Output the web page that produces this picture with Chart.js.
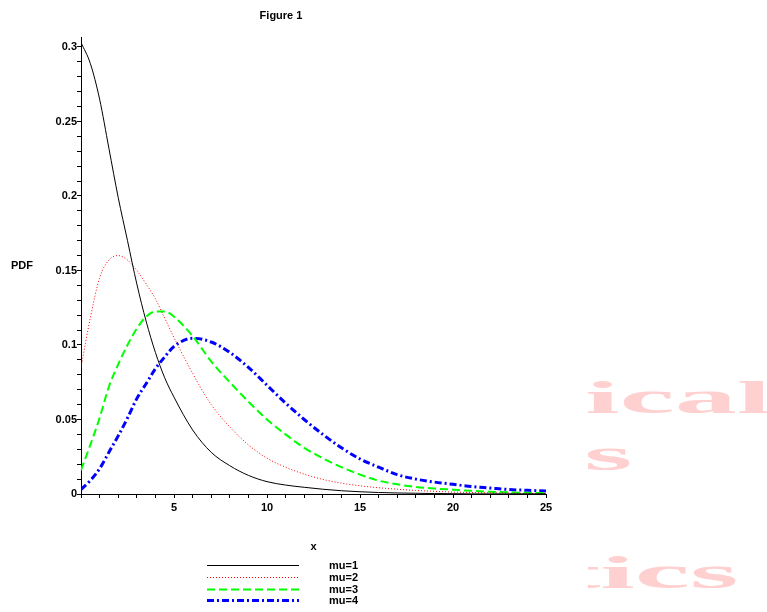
<!DOCTYPE html>
<html>
<head>
<meta charset="utf-8">
<script src="https://cdn.jsdelivr.net/npm/chart.js@4.4.1/dist/chart.umd.min.js"></script>
<style>
    html, body { margin: 0; padding: 0; background: #fff; }
    #wrap { width: 767px; height: 612px; }
</style>
</head>
<body>
<div id="wrap"><canvas id="grafico" width="767" height="612"></canvas></div>
<script>
// valores
const xValues = [0, 0.5, 1, 1.5, 2, 2.5, 3, 3.5, 4, 4.5, 5, 6, 7, 8, 9, 10, 11, 12, 13, 14, 15, 16, 17, 18, 19, 20, 21, 22, 23, 24, 25];
const mu1 = [0.303, 0.289, 0.265, 0.232, 0.199, 0.170, 0.141, 0.116, 0.095, 0.078, 0.065, 0.043, 0.028, 0.019, 0.0125, 0.0083, 0.006, 0.0045, 0.0032, 0.0022, 0.0015, 0.001, 0.0007, 0.0005, 0.0003, 0.0002, 0.0001, 0.0001, 0.0001, 0.0001, 0.0001];
const mu2 = [0.085, 0.118, 0.145, 0.157, 0.160, 0.157, 0.150, 0.141, 0.131, 0.118, 0.105, 0.081, 0.060, 0.045, 0.033, 0.024, 0.018, 0.0133, 0.0098, 0.0073, 0.0055, 0.0042, 0.0032, 0.0024, 0.0018, 0.0013, 0.001, 0.0008, 0.0006, 0.0004, 0.0003];
const mu3 = [0.016, 0.033, 0.051, 0.072, 0.087, 0.100, 0.111, 0.119, 0.1225, 0.1225, 0.119, 0.106, 0.089, 0.075, 0.062, 0.050, 0.040, 0.031, 0.024, 0.018, 0.013, 0.009, 0.0065, 0.0048, 0.0037, 0.0029, 0.0021, 0.0015, 0.0011, 0.0008, 0.0006];
const mu4 = [0.003, 0.009, 0.017, 0.028, 0.039, 0.051, 0.064, 0.074, 0.084, 0.092, 0.099, 0.1045, 0.102, 0.095, 0.085, 0.073, 0.061, 0.050, 0.040, 0.031, 0.0235, 0.018, 0.013, 0.010, 0.008, 0.0065, 0.005, 0.004, 0.003, 0.0025, 0.002];

const seriesLabels = ['mu=1', 'mu=2', 'mu=3', 'mu=4'];
const yMajorValues = [0, 0.05, 0.1, 0.15, 0.2, 0.25, 0.3];
const yTickLabels = ['0', '0.05', '0.1', '0.15', '0.2', '0.25', '0.3'];
const xMajorValues = [5, 10, 15, 20, 25];
const xTickLabels = ['5', '10', '15', '20', '25'];
const watermarkLines = ['ical', 's', 'tics'];

const fonte = '"Liberation Sans", Arial, sans-serif';

function pontos(ys) {
    return xValues.map(function (x, i) { return { x: x, y: ys[i] }; });
}

function rotulo(valores, rotulos, v) {
    const k = valores.findIndex(function (m) { return Math.abs(m - v) < 1e-9; });
    return k >= 0 ? rotulos[k] : '';
}

const estilos = [
    { color: '#000000', width: 1, dash: [] },
    { color: '#ff0000', width: 1, dash: [1, 2] },
    { color: '#00ff00', width: 2, dash: [8, 4] },
    { color: '#0000ff', width: 3, dash: [7, 3, 2, 3] }
];

const dados = {
    datasets: [mu1, mu2, mu3, mu4].map(function (ys, i) {
        return {
            label: seriesLabels[i],
            data: pontos(ys),
            borderColor: estilos[i].color,
            borderWidth: estilos[i].width,
            borderDash: estilos[i].dash,
            pointRadius: 0,
            cubicInterpolationMode: 'monotone',
            fill: false
        };
    })
};

// textos extras: titulo, eixos, legenda e marca d'agua
const textosPlugin = {
    id: 'textos',
    beforeDraw: function (chart) {
        const ctx = chart.ctx;
        ctx.save();
        ctx.beginPath();
        ctx.rect(588, 0, 767 - 588, 612);
        ctx.clip();
        ctx.fillStyle = '#ffd0d0';
        ctx.font = 'bold 46px "Liberation Serif", serif';
        ctx.textBaseline = 'alphabetic';
        ctx.textAlign = 'left';
        const linhas = [[585, 413], [584, 470], [559, 588]];
        watermarkLines.forEach(function (t, i) {
            ctx.save();
            ctx.translate(linhas[i][0], linhas[i][1]);
            ctx.scale(2.7, 1);
            ctx.fillText(t, 0, 0);
            ctx.restore();
        });
        ctx.restore();
    },
    afterDraw: function (chart) {
        const ctx = chart.ctx;
        const area = chart.chartArea;
        ctx.save();
        ctx.fillStyle = '#000';
        ctx.font = 'bold 11px ' + fonte;
        ctx.textBaseline = 'middle';
        ctx.textAlign = 'center';
        ctx.fillText('Figure 1', 281, 16);
        ctx.fillText('x', (area.left + area.right) / 2, 547);
        ctx.fillText('PDF', 22, (area.top + area.bottom) / 2);

        // legenda
        const ys = [565, 577, 589, 600];
        chart.data.datasets.forEach(function (ds, i) {
            ctx.save();
            ctx.strokeStyle = ds.borderColor;
            ctx.lineWidth = ds.borderWidth;
            ctx.setLineDash(ds.borderDash);
            ctx.beginPath();
            ctx.moveTo(207, ys[i] + 0.5);
            ctx.lineTo(299, ys[i] + 0.5);
            ctx.stroke();
            ctx.restore();
            ctx.textAlign = 'left';
            ctx.fillText(ds.label, 329, ys[i] + 1);
        });
        ctx.restore();
    }
};

const config = {
    type: 'line',
    data: dados,
    options: {
        responsive: false,
        animation: false,
        layout: { padding: { left: 0, top: 37, right: 221, bottom: 0 } },
        plugins: {
            legend: { display: false },
            tooltip: { enabled: false }
        },
        scales: {
            x: {
                type: 'linear',
                min: 0,
                max: 25,
                afterFit: function (s) { s.height = 118; },
                afterBuildTicks: function (s) {
                    const t = [];
                    for (let v = 0; v <= 25; v++) t.push({ value: v });
                    s.ticks = t;
                },
                grid: { drawOnChartArea: false, tickLength: 4, color: '#000', tickColor: '#000' },
                border: { display: true, color: '#000', width: 1 },
                ticks: {
                    autoSkip: false,
                    maxRotation: 0,
                    padding: 3,
                    color: '#000',
                    font: { family: fonte, weight: 'bold', size: 11 },
                    callback: function (v) { return rotulo(xMajorValues, xTickLabels, v); }
                }
            },
            y: {
                type: 'linear',
                min: 0,
                max: 0.3067,
                afterFit: function (s) { s.width = 81; },
                afterBuildTicks: function (s) {
                    const t = [];
                    for (let k = 0; k <= 30; k++) t.push({ value: k / 100 });
                    s.ticks = t;
                },
                grid: { drawOnChartArea: false, tickLength: 4, color: '#000', tickColor: '#000' },
                border: { display: true, color: '#000', width: 1 },
                ticks: {
                    autoSkip: false,
                    padding: 0,
                    color: '#000',
                    font: { family: fonte, weight: 'bold', size: 11 },
                    callback: function (v) { return rotulo(yMajorValues, yTickLabels, v); }
                }
            }
        }
    },
    plugins: [textosPlugin]
};

new Chart(document.getElementById('grafico').getContext('2d'), config);
</script>
</body>
</html>
